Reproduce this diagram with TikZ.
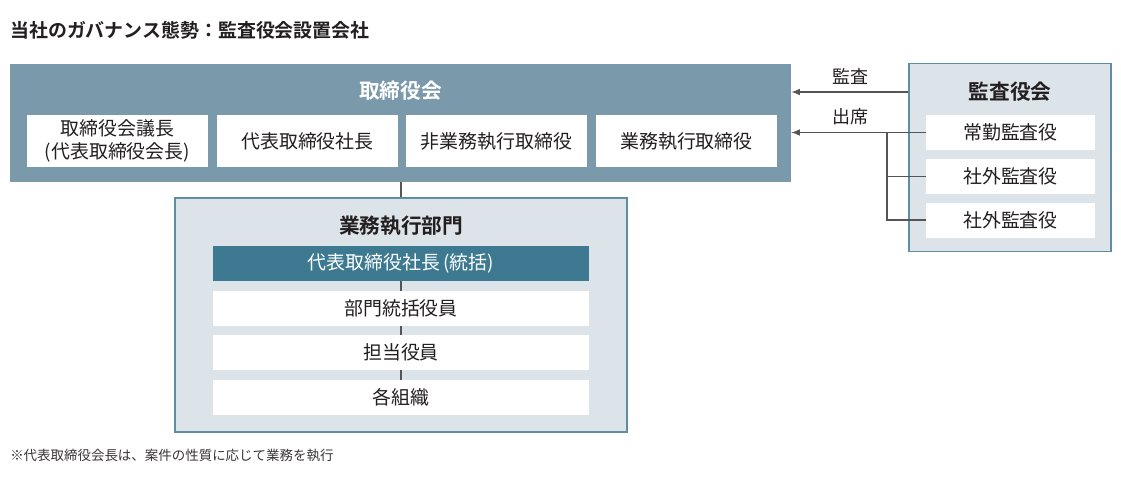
\documentclass[tikz,border=0pt]{standalone}
\usepackage{fontspec}
\setmainfont{Noto Sans CJK JP}[BoldFont={Noto Sans CJK JP Bold}]
\usetikzlibrary{arrows}

\definecolor{ink}{HTML}{231F20}
\definecolor{boardblue}{HTML}{7A9AAC}
\definecolor{panelfill}{HTML}{DCE3E9}
\definecolor{panelline}{HTML}{5E8EA2}
\definecolor{tealbox}{HTML}{3D7A92}
\definecolor{wire}{HTML}{555555}

\tikzset{
  panel/.style={draw=panelline, fill=panelfill, line width=0.9pt, inner sep=0pt},
  cell/.style={fill=white, inner sep=0pt, text=ink, align=center,
    font=\fontsize{14.2}{16}\selectfont},
  head/.style={text=ink, font=\fontsize{15.5}{18}\bfseries\selectfont},
}

\begin{document}
\begin{tikzpicture}[x=0.75pt,y=-0.75pt]
\useasboundingbox (0,0) rectangle (1121,479);

\node[anchor=west, text=ink, inner sep=0pt, font=\fontsize{14.2}{16}\bfseries\selectfont] (title) at (10,30) {当社のガバナンス態勢：監査役会設置会社};

% 取締役会
\node[fill=boardblue, inner sep=0pt, minimum width=585.75pt, minimum height=88.5pt] (board) at (400.5,123) {};
\node[head, text=white] (boardT) at (400.5,91) {取締役会};
\node[cell, minimum width=135.75pt, minimum height=39pt, font=\fontsize{14.2}{17}\selectfont] (b1) at (117.5,141) {取締役会議長\\(代表取締役会長)};
\node[cell, minimum width=135.75pt, minimum height=39pt] (b2) at (307.5,141) {代表取締役社長};
\node[cell, minimum width=135.75pt, minimum height=39pt] (b3) at (496.5,141) {非業務執行取締役};
\node[cell, minimum width=135.75pt, minimum height=39pt] (b4) at (686.5,141) {業務執行取締役};

% 業務執行部門
\node[panel, minimum width=339pt, minimum height=175.5pt] (exec) at (401,315) {};
\node[head] (execT) at (401,226) {業務執行部門};
\node[cell, fill=tealbox, text=white, minimum width=282pt, minimum height=26.25pt] (e0) at (401,263.5) {代表取締役社長\,(統括)};
\node[cell, minimum width=282pt, minimum height=26.25pt] (e1) at (401,308.5) {部門統括役員};
\node[cell, minimum width=282pt, minimum height=26.25pt] (e2) at (401,352.5) {担当役員};
\node[cell, minimum width=282pt, minimum height=26.25pt] (e3) at (401,397.5) {各組織};

\path[draw,wire,line width=0.9pt] (board.south -| exec.north) -- (exec.north);
\path[draw,wire,line width=0.9pt] (e0.south) -- (e1.north);
\path[draw,wire,line width=0.9pt] (e1.south) -- (e2.north);
\path[draw,wire,line width=0.9pt] (e2.south) -- (e3.north);

% 監査役会
\node[panel, minimum width=151.5pt, minimum height=141pt] (audit) at (1010,157.5) {};
\node[head] (auditT) at (1010,92) {監査役会};
\node[cell, minimum width=126.75pt, minimum height=26.25pt] (a1) at (1010.5,132.5) {常勤監査役};
\node[cell, minimum width=126.75pt, minimum height=26.25pt] (a2) at (1010.5,176.5) {社外監査役};
\node[cell, minimum width=126.75pt, minimum height=26.25pt] (a3) at (1010.5,220) {社外監査役};

\coordinate (br) at (887,0);
\coordinate (audLine) at (0,92);
\path[draw,wire,line width=1.2pt,->,>=latex] (audLine -| audit.west) -- (audLine -| board.east);
\path[draw,wire,line width=1.2pt,->,>=latex] (a1.west) -- (a1.west -| board.east);
\path[draw,wire,line width=1.2pt] (a1.west -| br) |- (a3.west);
\path[draw,wire,line width=1.2pt] (a2.west) -- (a2.west -| br);

\node[text=ink, font=\fontsize{13.5}{16}\selectfont] (kansa) at (850,76) {監査};
\node[text=ink, font=\fontsize{13.5}{16}\selectfont] (shusseki) at (850,117) {出席};

\node[anchor=west, inner sep=0pt, text=ink!90, font=\fontsize{10.1}{12}\selectfont] (note) at (10,455) {※代表取締役会長は、案件の性質に応じて業務を執行};
\end{tikzpicture}
\end{document}
